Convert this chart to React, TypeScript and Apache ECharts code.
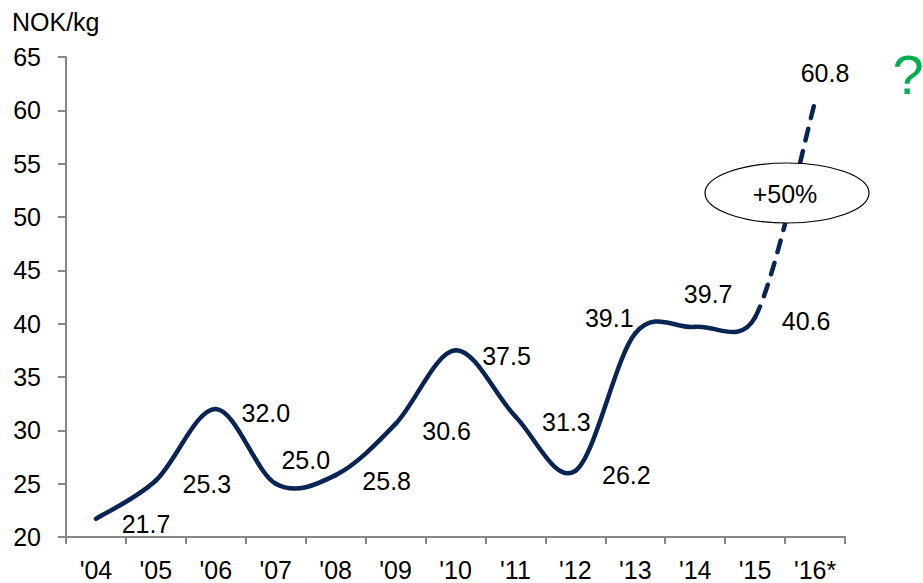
import React, { useEffect, useRef } from "react";
import * as echarts from "echarts";

const categories = ["'04", "'05", "'06", "'07", "'08", "'09", "'10", "'11", "'12", "'13", "'14", "'15", "'16*"];
const prices = [21.7, 25.3, 32.0, 25.0, 25.8, 30.6, 37.5, 31.3, 26.2, 39.1, 39.7, 40.6, 60.8];
const lastActualIndex = 11;
const yTicks = { min: 20, max: 65, interval: 5 };
const unitLabel = "NOK/kg";
const changeLabel = "+50%";
const questionLabel = "?";
// label offsets (px) relative to each point
const labelOffsets: [number, number][] = [
  [50, 5], [51, 4], [50, 4], [30, -24], [51, 6], [51, 7], [51, 6],
  [51, 6], [51, 4], [-26, -15], [13, -33], [51, 4], [10, -29],
];

const NAVY = "#0a2454";
const FONT = "Liberation Sans, Arial, sans-serif";

export default function App() {
  const ref = useRef<HTMLDivElement>(null);
  useEffect(() => {
    document.body.style.margin = "0";
    if (!ref.current) return;
    const chart = echarts.init(ref.current, undefined, { renderer: "svg" });

    const labelData = prices.map((v, i) => ({
      value: v,
      label: {
        show: true,
        position: "inside" as const,
        offset: labelOffsets[i],
        formatter: v.toFixed(1),
      },
    }));

    const n = prices.length;
    const renderSegment = (params: any, api: any) => {
      const i = params.dataIndex;
      if (i >= n - 1) return null;
      const pt = (j: number) => {
        const k = Math.max(0, Math.min(n - 1, j));
        return api.coord([k, prices[k]]);
      };
      const p0 = pt(i - 1);
      const p1 = pt(i);
      const p2 = pt(i + 1);
      const p3 = pt(i + 2);
      const t1 = 6;
      const t2 = i === lastActualIndex - 1 ? 8 : 6;
      const dashed = i >= lastActualIndex;
      return {
        type: "bezierCurve",
        shape: {
          x1: p1[0],
          y1: p1[1],
          cpx1: p1[0] + (p2[0] - p0[0]) / t1,
          cpy1: p1[1] + (p2[1] - p0[1]) / t1,
          cpx2: p2[0] - (p3[0] - p1[0]) / t2,
          cpy2: p2[1] - (p3[1] - p1[1]) / t2,
          x2: p2[0],
          y2: p2[1],
        },
        style: {
          stroke: NAVY,
          lineWidth: 4.5,
          fill: null,
          lineCap: "round",
          lineDash: dashed ? [12, 11] : null,
        },
      };
    };

    chart.setOption({
      animation: false,
      grid: { left: 66, right: 78, top: 57, bottom: 46, containLabel: false },
      xAxis: {
        type: "category",
        data: categories,
        boundaryGap: true,
        axisLine: { lineStyle: { color: "#868686", width: 2 } },
        axisTick: { show: true, length: 7, lineStyle: { color: "#868686", width: 2 } },
        axisLabel: { color: "#000", fontSize: 25, fontFamily: FONT, margin: 20 },
        splitLine: { show: false },
      },
      yAxis: {
        type: "value",
        min: yTicks.min,
        max: yTicks.max,
        interval: yTicks.interval,
        axisLine: { show: true, lineStyle: { color: "#868686", width: 2 } },
        axisTick: { show: true, length: 8, lineStyle: { color: "#868686", width: 2 } },
        axisLabel: { color: "#000", fontSize: 25, fontFamily: FONT, margin: 25 },
        splitLine: { show: false },
      },
      series: [
        {
          type: "custom",
          data: prices.map((v, i) => [i, v]),
          encode: { x: 0, y: 1 },
          renderItem: renderSegment,
          clip: false,
          z: 2,
        },
        {
          type: "line",
          data: labelData,
          symbol: "circle",
          symbolSize: 1,
          itemStyle: { color: "rgba(0,0,0,0)" },
          lineStyle: { width: 0, opacity: 0 },
          label: { color: "#000", fontSize: 25, fontFamily: FONT },
          z: 5,
        },
      ],
      graphic: [
        {
          type: "text",
          left: 12,
          top: 9,
          style: { text: unitLabel, fill: "#000", font: `25px ${FONT}` },
        },
        {
          type: "ellipse",
          shape: { cx: 787, cy: 193, rx: 82, ry: 30 },
          style: { fill: "#fff", stroke: "#000", lineWidth: 1.2 },
          z: 10,
        },
        {
          type: "text",
          x: 785,
          y: 194,
          style: {
            text: changeLabel,
            fill: "#000",
            font: `25px ${FONT}`,
            align: "center",
            verticalAlign: "middle",
          },
          z: 11,
        },
        {
          type: "text",
          x: 908,
          y: 74,
          style: {
            text: questionLabel,
            fill: "#00b050",
            font: `56px ${FONT}`,
            align: "center",
            verticalAlign: "middle",
          },
          z: 11,
        },
      ],
    });
    return () => chart.dispose();
  }, []);
  return <div ref={ref} style={{ width: 923, height: 583 }} />;
}
